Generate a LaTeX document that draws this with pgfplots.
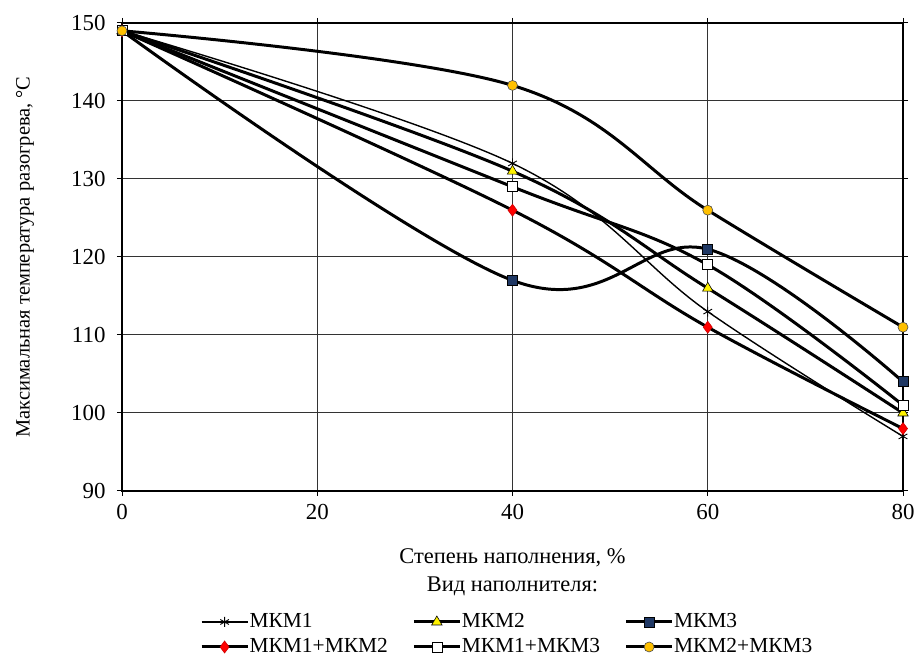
\documentclass[border=0pt]{standalone}
\usepackage{pgfplots}
\pgfplotsset{compat=1.18}
\usepackage{fontspec}
\setmainfont{Liberation Serif}
\definecolor{navy}{RGB}{31,56,100}
\definecolor{gold}{RGB}{255,192,0}
\begin{document}
\begin{tikzpicture}
\begin{axis}[
  name=main,
  scale only axis, width=781bp, height=468bp,
  xmin=0, xmax=80, ymin=90, ymax=150,
  xtick={0,20,40,60,80}, ytick={90,100,...,150},
  grid=major, major grid style={black!80, line width=1pt},
  axis line style={black, line width=2pt},
  tick style={black, line width=1pt}, tick align=outside,
  major tick length=5bp,
  /pgf/number format/assume math mode=true,
  tick label style={font=\fontsize{23}{25}\selectfont},
  yticklabel style={xshift=-8bp},
  xticklabel style={yshift=-5bp},
  ylabel={Максимальная температура разогрева, °C},
  ylabel style={font=\fontsize{20.5}{22}\selectfont, at={(axis description cs:-0.1242,0.5)}, anchor=center},
  xlabel={Степень наполнения, \%\\Вид наполнителя:},
  xlabel style={font=\fontsize{22.5}{28}\selectfont, align=center, at={(axis description cs:0.5,-0.1731)}, anchor=center},
  legend columns=3,
  legend style={at={(axis description cs:0.4923,-0.3066)}, anchor=center, draw=none, fill=none,
    font=\fontsize{21.5}{22}\selectfont,
    nodes={inner sep=0.5bp, text height=15bp, text depth=4bp},
    /tikz/every even column/.append style={column sep=24bp}, row sep=5bp},
  legend cell align=left,
  legend image code/.code={\draw[#1, mark repeat=2, mark phase=2] plot coordinates {(0bp,0bp) (23bp,0bp) (46bp,0bp)};},
  every axis plot/.append style={smooth, tension=0.6, black, mark size=5bp},
  clip=false,
]
\addplot[line width=1.4pt, mark=asterisk, mark options={black, line width=0.9pt}] coordinates {(0,149) (40,132) (60,113) (80,97)};
\addlegendentry{МКМ1}
\addplot[line width=3pt, mark=triangle*, mark size=6bp, mark options={fill=yellow, draw=black, line width=0.6pt}] coordinates {(0,149) (40,131) (60,116) (80,100)};
\addlegendentry{МКМ2}
\addplot[line width=3pt, mark=square*, mark options={fill=navy, draw=black, line width=0.6pt}] coordinates {(0,149) (40,117) (60,121) (80,104)};
\addlegendentry{МКМ3}
\addplot[line width=3pt, mark=diamond*, mark size=6bp, mark options={fill=red, draw=red!80!black, line width=0.6pt}] coordinates {(0,149) (40,126) (60,111) (80,98)};
\addlegendentry{МКМ1+МКМ2}
\addplot[line width=3pt, mark=square*, mark options={fill=white, draw=black, line width=0.6pt}] coordinates {(0,149) (40,129) (60,119) (80,101)};
\addlegendentry{МКМ1+МКМ3}
\addplot[line width=3pt, mark=*, mark options={fill=gold, draw=black!70, line width=0.6pt}] coordinates {(0,149) (40,142) (60,126) (80,111)};
\addlegendentry{МКМ2+МКМ3}
\end{axis}
\pgfresetboundingbox
\useasboundingbox ([xshift=-122bp,yshift=-167bp]main.south west) rectangle ([xshift=14bp,yshift=23bp]main.north east);
\end{tikzpicture}
\end{document}
